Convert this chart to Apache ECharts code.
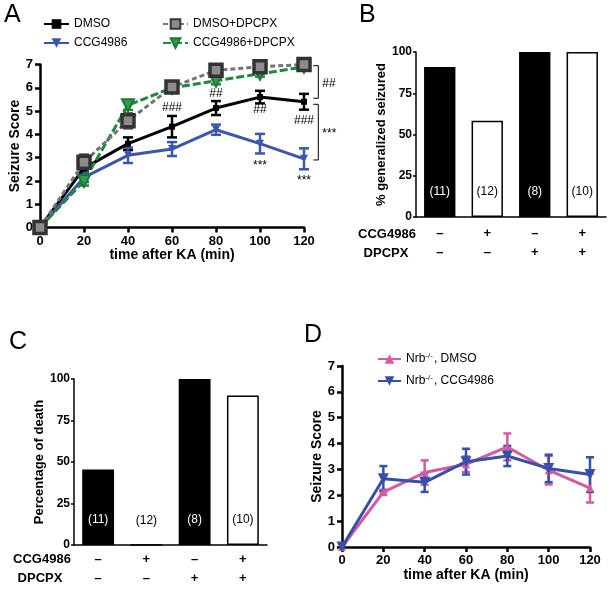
<!DOCTYPE html>
<html><head><meta charset="utf-8">
<script src="https://cdn.jsdelivr.net/npm/echarts@6/dist/echarts.min.js"></script>
<style>html,body{margin:0;padding:0;background:#fff}#c{width:612px;height:591px}</style>
</head><body><div id="c"></div>
<script>
// ---- Panel A data ----
const timePoints = [0, 20, 40, 60, 80, 100, 120];
const dmso = [0, 2.55, 3.6, 4.33, 5.13, 5.6, 5.4];
const dmsoErr = [0, 0.15, 0.27, 0.46, 0.3, 0.27, 0.34];
const ccg = [0, 2.15, 3.1, 3.37, 4.2, 3.6, 2.95];
const ccgErr = [0, 0.2, 0.33, 0.3, 0.22, 0.42, 0.45];
const dmsoDpcpx = [0, 2.8, 4.58, 6.03, 6.75, 6.9, 7.0];
const dmsoDpcpxErr = [0, 0.33, 0.32, 0.12, 0.15, 0.12, 0.1];
const ccgDpcpx = [0, 2.0, 5.25, 6.0, 6.3, 6.6, 6.9];
const ccgDpcpxErr = [0, 0.2, 0.2, 0.1, 0.15, 0.12, 0.1];
const annotA = [[60, 5.15, '###'], [80, 5.76, '##'], [100, 5.04, '##'], [120, 4.6, '###'], [100, 2.65, '***'], [120, 2.0, '***']];
const bracketsA = [[126.5, 6.95, 5.55, '##'], [126.5, 5.29, 2.9, '***']];
// ---- Panels B / C data ----
const barCats = ['g1', 'g2', 'g3', 'g4'];
const ccgSigns = ['\u2013', '+', '\u2013', '+'];
const dpcpxSigns = ['\u2013', '\u2013', '+', '+'];
const genSeized = [90.9, 58.3, 100, 100];
const death = [45.5, 0, 100, 90];
const nLabels = ['(11)', '(12)', '(8)', '(10)'];
const barFills = ['#000', '#fff', '#000', '#fff'];
const pctTicks = [0, 25, 50, 75, 100];
// ---- Panel D data ----
const nrbDmso = [0, 2.12, 2.88, 3.2, 3.87, 2.97, 2.28];
const nrbDmsoErr = [0, 0.1, 0.47, 0.3, 0.52, 0.55, 0.56];
const nrbCcg = [0, 2.64, 2.5, 3.3, 3.52, 3.04, 2.8];
const nrbCcgErr = [0, 0.49, 0.37, 0.5, 0.39, 0.53, 0.67];

const FF = 'Liberation Sans, Arial, sans-serif';
const chart = echarts.init(document.getElementById('c'), null, {renderer: 'canvas'});

function timeX(gi) {
  return {type: 'value', gridIndex: gi, min: 0, max: 120, interval: 20,
    axisLine: {show: true, onZero: false, lineStyle: {color: '#000', width: 2.5}},
    axisTick: {show: true, length: 5, lineStyle: {color: '#000', width: 2.5}},
    axisLabel: {color: '#000', fontWeight: 'bold', fontSize: 13, margin: 7, fontFamily: FF},
    splitLine: {show: false},
    name: 'time after KA (min)', nameLocation: 'middle', nameGap: 21,
    nameTextStyle: {color: '#000', fontWeight: 'bold', fontSize: 14, fontFamily: FF}};
}
function scoreY(gi, gap) {
  return {type: 'value', gridIndex: gi, min: 0, max: 7, interval: 1,
    axisLine: {show: true, lineStyle: {color: '#000', width: 2.5}},
    axisTick: {show: true, length: 5, lineStyle: {color: '#000', width: 2.5}},
    axisLabel: {color: '#000', fontWeight: 'bold', fontSize: 13, margin: 7, fontFamily: FF},
    splitLine: {show: false},
    name: 'Seizure Score', nameLocation: 'middle', nameGap: gap,
    nameTextStyle: {color: '#000', fontWeight: 'bold', fontSize: 14, fontFamily: FF}};
}
function catX(gi, margin) {
  return {type: 'category', gridIndex: gi, data: barCats,
    axisLine: {show: true, lineStyle: {color: '#000', width: 1.5}},
    axisTick: {show: false},
    axisLabel: {color: '#000', fontWeight: 'bold', fontSize: 13, margin: margin, lineHeight: 19, fontFamily: FF,
      formatter: function (v, i) { return ccgSigns[i] + '\n' + dpcpxSigns[i]; }}};
}
function pctY(gi, name, gap) {
  return {type: 'value', gridIndex: gi, min: 0, max: 100, interval: 25,
    axisLine: {show: true, lineStyle: {color: '#000', width: 1.5}},
    axisTick: {show: true, length: 3, lineStyle: {color: '#000', width: 1.5}},
    axisLabel: {color: '#000', fontWeight: 'bold', fontSize: 12, margin: 4, fontFamily: FF,
      formatter: function (v) { return pctTicks.indexOf(v) >= 0 ? String(v) : ''; }},
    splitLine: {show: false},
    name: name, nameLocation: 'middle', nameGap: gap,
    nameTextStyle: {color: '#000', fontWeight: 'bold', fontSize: 13, fontFamily: FF}};
}
function errSeries(gi, vals, errs, color, hw, lw) {
  return {type: 'custom', xAxisIndex: gi, yAxisIndex: gi, silent: true, clip: false,
    data: timePoints.map(function (t, i) { return [t, vals[i], errs[i]]; }),
    renderItem: function (params, api) {
      const x = api.value(0), y = api.value(1), e = api.value(2);
      if (!e) return {type: 'group', children: []};
      const t = api.coord([x, y + e]), b = api.coord([x, y - e]);
      const st = {stroke: color, lineWidth: lw};
      return {type: 'group', children: [
        {type: 'line', shape: {x1: t[0], y1: t[1], x2: b[0], y2: b[1]}, style: st},
        {type: 'line', shape: {x1: t[0] - hw, y1: t[1], x2: t[0] + hw, y2: t[1]}, style: st},
        {type: 'line', shape: {x1: b[0] - hw, y1: b[1], x2: b[0] + hw, y2: b[1]}, style: st}
      ]};
    }};
}
function lineSeries(gi, name, vals, color, lw, dash, symbol, size, rot, fill, border, bw) {
  return {type: 'line', name: name, xAxisIndex: gi, yAxisIndex: gi,
    data: timePoints.map(function (t, i) { return [t, vals[i]]; }),
    lineStyle: {color: color, width: lw, type: dash},
    symbol: symbol, symbolSize: size, symbolRotate: rot, showSymbol: true,
    itemStyle: {color: fill, borderColor: border, borderWidth: border ? (bw || 2) : 0}};
}
function barSeries(gi, vals) {
  return {type: 'bar', xAxisIndex: gi, yAxisIndex: gi, barWidth: '66%',
    data: vals.map(function (v, i) {
      return {value: v, itemStyle: {color: barFills[i], borderColor: '#000', borderWidth: 1.5},
        label: {show: true, position: 'insideBottom', distance: 19, formatter: nLabels[i],
          color: barFills[i] === '#000' ? '#fff' : '#000', fontSize: 12, fontFamily: FF}};
    })};
}

const option = {
  animation: false,
  textStyle: {fontFamily: FF},
  grid: [
    {left: 40, top: 64.5, width: 264, height: 163, containLabel: false, outerBoundsMode: 'none'},
    {left: 416, top: 52, width: 190, height: 165, containLabel: false, outerBoundsMode: 'none'},
    {left: 74, top: 379, width: 193, height: 166, containLabel: false, outerBoundsMode: 'none'},
    {left: 342, top: 366, width: 248, height: 181, containLabel: false, outerBoundsMode: 'none'}
  ],
  xAxis: [timeX(0), catX(1, 7), catX(2, 5), timeX(3)],
  yAxis: [scoreY(0, 18), pctY(1, '% generalized seizured', 27), pctY(2, 'Percentage of death', 27), scoreY(3, 17)],
  legend: [
    {left: 38, top: 13, orient: 'vertical', itemGap: 7, itemWidth: 25, itemHeight: 12,
      data: ['DMSO', 'CCG4986'], textStyle: {fontSize: 12, color: '#000', fontFamily: FF}},
    {left: 157, top: 13, orient: 'vertical', itemGap: 7, itemWidth: 25, itemHeight: 12,
      data: ['DMSO+DPCPX', 'CCG4986+DPCPX'], textStyle: {fontSize: 12, color: '#000', fontFamily: FF}},
    {left: 372, top: 347, orient: 'vertical', itemGap: 9, itemWidth: 23, itemHeight: 12,
      data: ['Nrb-/-, DMSO', 'Nrb-/-, CCG4986'],
      formatter: function (n) { return n.replace('-/-', '{sup|-/-}'); },
      textStyle: {fontSize: 12, color: '#000', fontFamily: FF,
        rich: {sup: {fontSize: 8, color: '#000', verticalAlign: 'top', padding: [0, 1, 6, 0], fontFamily: FF}}}}
  ],
  series: [
    lineSeries(0, 'DMSO', dmso, '#000', 3, 'solid', 'rect', 6, 0, '#000', null),
    errSeries(0, dmso, dmsoErr, '#000', 5, 2.5),
    lineSeries(0, 'CCG4986', ccg, '#3b57ad', 3, 'solid', 'triangle', 8, 180, '#3b57ad', null),
    errSeries(0, ccg, ccgErr, '#3b57ad', 5, 2.5),
    lineSeries(0, 'CCG4986+DPCPX', ccgDpcpx, '#1f8a3e', 3, [8, 3], 'triangle', 12, 180, '#2f9a50', '#1a7a35', 2),
    errSeries(0, ccgDpcpx, ccgDpcpxErr, '#1f8a3e', 5, 2.5),
    lineSeries(0, 'DMSO+DPCPX', dmsoDpcpx, '#747474', 3, [5, 3], 'rect', 12, 0, '#8c8c8c', '#333333', 3.5),
    errSeries(0, dmsoDpcpx, dmsoDpcpxErr, '#444', 5, 2.5),
    {type: 'custom', xAxisIndex: 0, yAxisIndex: 0, silent: true, clip: false,
      data: annotA.map(function (a) { return [a[0], a[1]]; }),
      renderItem: function (params, api) {
        const p = api.coord([api.value(0), api.value(1)]);
        return {type: 'text', x: p[0], y: p[1], style: {text: annotA[params.dataIndex][2],
          align: 'center', verticalAlign: 'middle', font: '12px ' + FF, fill: '#000'}};
      }},
    {type: 'custom', xAxisIndex: 0, yAxisIndex: 0, silent: true, clip: false,
      data: bracketsA.map(function (b) { return [b[0], b[1], b[2]]; }),
      renderItem: function (params, api) {
        const t = api.coord([api.value(0), api.value(1)]), b = api.coord([api.value(0), api.value(2)]);
        return {type: 'group', children: [
          {type: 'polyline', shape: {points: [[t[0] - 5, t[1]], [t[0], t[1]], [b[0], b[1]], [b[0] - 5, b[1]]]},
            style: {stroke: '#000', lineWidth: 1, fill: null}},
          {type: 'text', x: t[0] + 4, y: (t[1] + b[1]) / 2 + 2, style: {text: bracketsA[params.dataIndex][3],
            align: 'left', verticalAlign: 'middle', font: '12px ' + FF, fill: '#000'}}
        ]};
      }},
    barSeries(1, genSeized),
    barSeries(2, death),
    lineSeries(3, 'Nrb-/-, DMSO', nrbDmso, '#d65aa2', 3, 'solid', 'triangle', 8, 0, '#d65aa2', null),
    errSeries(3, nrbDmso, nrbDmsoErr, '#d65aa2', 4, 2.5),
    lineSeries(3, 'Nrb-/-, CCG4986', nrbCcg, '#3650a8', 3, 'solid', 'triangle', 11, 180, '#3650a8', null),
    errSeries(3, nrbCcg, nrbCcgErr, '#3650a8', 4, 2.5)
  ],
  graphic: [
    {type: 'text', left: 4, top: 3, style: {text: 'A', font: '25px ' + FF, fill: '#000'}},
    {type: 'text', left: 359, top: 3, style: {text: 'B', font: '25px ' + FF, fill: '#000'}},
    {type: 'text', left: 9, top: 330, style: {text: 'C', font: '25px ' + FF, fill: '#000'}},
    {type: 'text', left: 304, top: 323, style: {text: 'D', font: '25px ' + FF, fill: '#000'}},
    {type: 'text', x: 387, y: 234, style: {text: 'CCG4986', font: 'bold 13px ' + FF, fill: '#000', align: 'center', verticalAlign: 'middle'}},
    {type: 'text', x: 386, y: 253, style: {text: 'DPCPX', font: 'bold 13px ' + FF, fill: '#000', align: 'center', verticalAlign: 'middle'}},
    {type: 'text', x: 42, y: 559, style: {text: 'CCG4986', font: 'bold 13px ' + FF, fill: '#000', align: 'center', verticalAlign: 'middle'}},
    {type: 'text', x: 40, y: 578, style: {text: 'DPCPX', font: 'bold 13px ' + FF, fill: '#000', align: 'center', verticalAlign: 'middle'}}
  ]
};
chart.setOption(option);
</script>
</body></html>
